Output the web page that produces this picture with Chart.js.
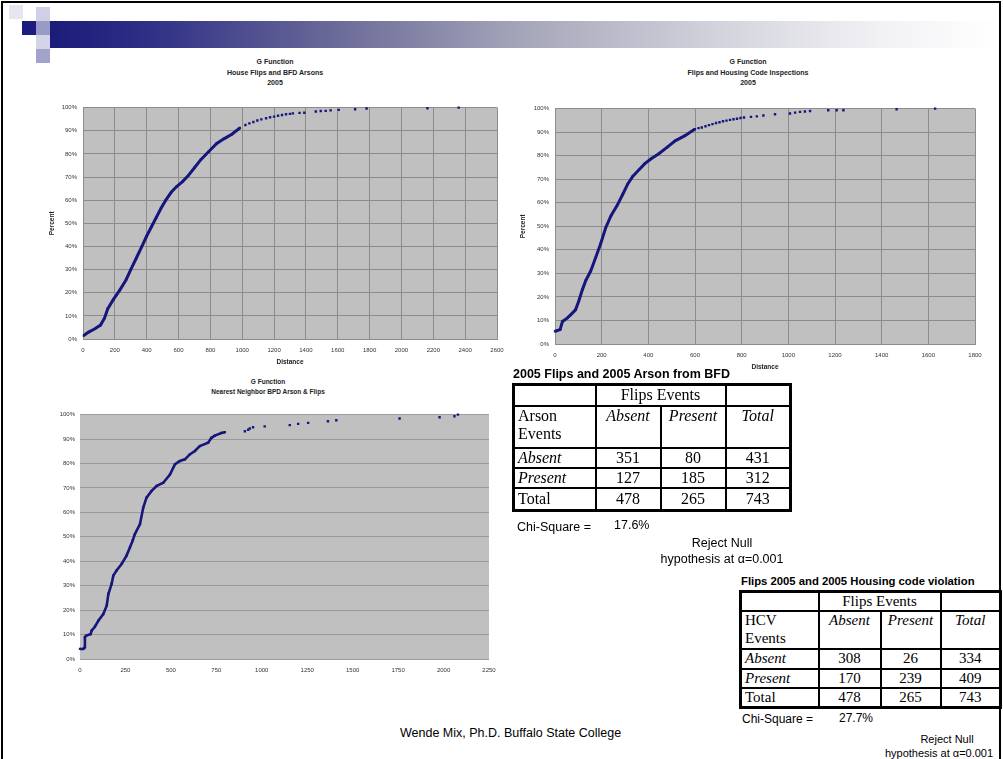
<!DOCTYPE html>
<html><head><meta charset="utf-8">
<script src="https://cdn.jsdelivr.net/npm/chart.js@4/dist/chart.umd.min.js"></script>
<style>
body{margin:0;width:1003px;height:759px;background:#fff;position:relative;overflow:hidden;font-family:"Liberation Sans",Arial,sans-serif;color:#000;}
.frame{position:absolute;left:1px;top:1px;width:996px;height:800px;border:2px solid #000;}
.sq{position:absolute;width:14px;height:14px;}
.bar{position:absolute;left:50px;top:21px;width:948px;height:27px;background:linear-gradient(to right,#1b1b7a 0%,#2e2e86 10%,#6a6a98 30%,#a6a6ba 50%,#d2d2dc 70%,#f2f2f5 88%,#fff 100%);}
canvas{position:absolute;}
.ct{position:absolute;text-align:center;font-weight:bold;font-size:7px;line-height:10.5px;color:#222;white-space:nowrap;}
table{position:absolute;border-collapse:collapse;table-layout:fixed;font-family:"Liberation Serif","Times New Roman",serif;border:3px solid #000;}
td{border:2px solid #000;padding:0 3px;overflow:hidden;white-space:nowrap;line-height:1.15;}
td.c{text-align:center;}
td.i{font-style:italic;}
.tt{position:absolute;font-weight:bold;white-space:nowrap;}
.tx{position:absolute;white-space:nowrap;font-size:12.5px;}
</style></head>
<body>
<div class="frame"></div>
<div class="sq" style="left:9px;top:5px;background:#e6e6f1"></div>
<div class="sq" style="left:36px;top:7px;background:#cfcfe5"></div>
<div class="sq" style="left:22px;top:21px;background:#1c1c7e"></div>
<div class="sq" style="left:36px;top:21px;background:#9a9ac6"></div>
<div class="bar"></div>
<div class="sq" style="left:36px;top:35px;background:#d4d4e8"></div>
<div class="sq" style="left:36px;top:49px;background:#a2a2cc"></div>

<div class="ct" style="left:175px;top:57px;width:200px">G Function<br>House Flips and BFD Arsons<br>2005</div>
<div class="ct" style="left:648px;top:57px;width:200px">G Function<br>Flips and Housing Code Inspections<br>2005</div>
<div class="ct" style="left:168px;top:377px;width:200px;font-size:6.5px;line-height:9.5px">G Function<br>Nearest Neighbor BPD Arson &amp; Flips</div>

<canvas id="c1" width="472" height="271" style="left:40px;top:98px;width:472px;height:271px"></canvas>
<canvas id="c2" width="480" height="275" style="left:510px;top:99px;width:480px;height:275px"></canvas>
<canvas id="c3" width="464" height="273" style="left:40px;top:406px;width:464px;height:273px"></canvas>

<div class="tt" style="left:513px;top:367px;font-size:12.5px">2005 Flips and 2005 Arson from BFD</div>
<table style="left:512px;top:383px;width:277px;font-size:16px">
<colgroup><col style="width:82px"><col style="width:65px"><col style="width:65px"><col style="width:65px"></colgroup>
<tr style="height:21px"><td></td><td class="c" colspan="2">Flips Events</td><td></td></tr>
<tr style="height:42px;vertical-align:top"><td>Arson<br>Events</td><td class="c i">Absent</td><td class="c i">Present</td><td class="c i">Total</td></tr>
<tr style="height:19px"><td class="i">Absent</td><td class="c">351</td><td class="c">80</td><td class="c">431</td></tr>
<tr style="height:20px"><td class="i">Present</td><td class="c">127</td><td class="c">185</td><td class="c">312</td></tr>
<tr style="height:22px"><td>Total</td><td class="c">478</td><td class="c">265</td><td class="c">743</td></tr>
</table>
<div class="tx" style="left:517px;top:520px">Chi-Square =</div>
<div class="tx" style="left:614px;top:518px">17.6%</div>
<div class="tx" style="left:622px;top:536px;width:200px;text-align:center">Reject Null</div>
<div class="tx" style="left:622px;top:552px;width:200px;text-align:center">hypothesis at α=0.001</div>

<div class="tt" style="left:741px;top:575px;font-size:11.3px">Flips 2005 and 2005 Housing code violation</div>
<table style="left:739px;top:590px;width:260px;font-size:15px">
<colgroup><col style="width:78px"><col style="width:62px"><col style="width:60px"><col style="width:60px"></colgroup>
<tr style="height:19px"><td></td><td class="c" colspan="2">Flips Events</td><td></td></tr>
<tr style="height:38px;vertical-align:top"><td>HCV<br>Events</td><td class="c i">Absent</td><td class="c i">Present</td><td class="c i">Total</td></tr>
<tr style="height:19px"><td class="i">Absent</td><td class="c">308</td><td class="c">26</td><td class="c">334</td></tr>
<tr style="height:18px"><td class="i">Present</td><td class="c">170</td><td class="c">239</td><td class="c">409</td></tr>
<tr style="height:19px"><td>Total</td><td class="c">478</td><td class="c">265</td><td class="c">743</td></tr>
</table>
<div class="tx" style="left:742px;top:712px;font-size:12px">Chi-Square =</div>
<div class="tx" style="left:839px;top:711px;font-size:12px">27.7%</div>
<div class="tx" style="left:847px;top:733px;width:200px;text-align:center;font-size:11px">Reject Null</div>
<div class="tx" style="left:839px;top:747px;width:200px;text-align:center;font-size:11px">hypothesis at α=0.001</div>

<div class="tx" style="left:400px;top:726px;font-size:12.5px">Wende Mix, Ph.D. Buffalo State College</div>

<script>
// ---- Chart 1: House Flips and BFD Arsons ----
const arsonDist = [5, 35, 75, 110, 135, 155, 190, 230, 270, 300, 335, 370, 400, 430, 460, 490, 520, 555, 590, 625, 660, 700, 740, 790, 840, 885, 935, 985];
const arsonPct  = [1.5, 3, 4.4, 6, 9, 13, 17, 21, 25.5, 30, 35, 40, 44.5, 48.5, 52.5, 56.5, 60, 63.5, 66, 68, 70.5, 74, 77.5, 81, 84.5, 86.5, 88.5, 91.2];
const arsonTailDist = [1020, 1045, 1070, 1095, 1120, 1150, 1175, 1200, 1225, 1250, 1275, 1300, 1318, 1360, 1390, 1462, 1493, 1524, 1555, 1606, 1709, 1781, 2163, 2359];
const arsonTailPct  = [92.5, 93.2, 93.8, 94.4, 94.9, 95.4, 95.8, 96.1, 96.5, 96.8, 97.1, 97.3, 97.5, 97.7, 97.8, 98.3, 98.5, 98.6, 98.8, 99.0, 99.3, 99.6, 99.7, 100];
const xTicks1 = [0, 200, 400, 600, 800, 1000, 1200, 1400, 1600, 1800, 2000, 2200, 2400, 2600];

// ---- Chart 2: Flips and Housing Code Inspections ----
const hciDist = [0, 22, 32, 52, 67, 88, 102, 117, 132, 153, 174, 196, 217, 240, 266, 290, 312, 333, 360, 385, 412, 445, 480, 515, 557, 600];
const hciPct  = [5.4, 6.1, 9.6, 11, 12.4, 14.5, 18.3, 23, 27, 31, 36.6, 42.7, 49.3, 54.5, 58.8, 63.5, 68, 71.2, 74, 76.6, 78.7, 80.8, 83.5, 86.3, 88.5, 91.3];
const hciTailDist = [615, 629, 645, 660, 675, 690, 705, 720, 735, 750, 765, 780, 795, 810, 840, 865, 893, 943, 1007, 1029, 1050, 1071, 1093, 1171, 1207, 1236, 1464, 1629];
const hciTailPct  = [91.7, 92, 92.5, 93, 93.4, 93.9, 94.2, 94.6, 94.9, 95.2, 95.5, 95.7, 96, 96.2, 96.5, 96.7, 97.1, 97.6, 97.9, 98.3, 98.6, 98.8, 99, 99.3, 99.3, 99.3, 99.7, 100];
const xTicks2 = [0, 200, 400, 600, 800, 1000, 1200, 1400, 1600, 1800];

// ---- Chart 3: Nearest Neighbor BPD Arson & Flips ----
const nnDist = [0, 18, 27, 27, 33, 59, 64, 82, 101, 128, 147, 156, 174, 183, 201, 229, 256, 275, 290, 302, 330, 348, 366, 394, 421, 458, 495, 522, 549, 577, 604, 632, 659, 705, 723, 742, 778, 797];
const nnPct  = [4.1, 4.1, 4.8, 8.9, 9.5, 10.2, 11.6, 13.2, 15.7, 18.4, 21.8, 26.6, 30.7, 34.1, 36.2, 38.9, 42.3, 45.7, 48.5, 51.1, 55.2, 62, 66, 68.8, 70.8, 72.1, 75.5, 79.6, 81, 81.7, 83.7, 85.1, 87.1, 88.5, 90.5, 91.4, 92.5, 92.8];
const nnTailDist = [907, 925, 934, 952, 1016, 1154, 1200, 1255, 1364, 1410, 1758, 1978, 2060, 2079];
const nnTailPct  = [93.2, 93.8, 94.3, 94.8, 95.2, 95.7, 96.2, 96.6, 97.3, 97.7, 98.4, 98.9, 99.3, 100];
const xTicks3 = [0, 250, 500, 750, 1000, 1250, 1500, 1750, 2000, 2250];

const yTicks = [0, 10, 20, 30, 40, 50, 60, 70, 80, 90, 100];

const NAVY = '#16167c';
const FONT = '"Liberation Sans", Arial, sans-serif';

const plotBg = {
  id: 'plotBg',
  beforeDraw(chart) {
    const {ctx, chartArea: a} = chart;
    ctx.save();
    ctx.fillStyle = '#c0c0c0';
    ctx.fillRect(a.left, a.top, a.right - a.left, a.bottom - a.top);
    ctx.restore();
  }
};

function pts(xs, ys) { return xs.map((x, i) => ({x: x, y: ys[i]})); }

function gchart(id, xs, ys, txs, tys, xt, o) {
  return new Chart(document.getElementById(id), {
    type: 'scatter',
    data: {datasets: [
      {data: pts(xs, ys), showLine: true, borderColor: NAVY, backgroundColor: NAVY, borderWidth: o.lw,
       pointRadius: 1.6, pointStyle: 'rect', pointBorderWidth: 0, tension: 0, clip: 6},
      {data: pts(txs, tys), showLine: false, borderColor: NAVY, backgroundColor: NAVY,
       pointRadius: 1.7, pointStyle: 'rect', pointBorderWidth: 0, clip: 6}
    ]},
    options: {
      responsive: false, animation: false, events: [],
      layout: {padding: {top: o.padTop, right: o.padRight, left: 0, bottom: 0}},
      plugins: {legend: {display: false}, tooltip: {enabled: false}},
      scales: {
        x: {
          type: 'linear', min: 0, max: xt[xt.length - 1],
          afterBuildTicks: s => { s.ticks = xt.map(v => ({value: v})); },
          afterFit: s => { s.height = o.xh; },
          grid: {display: o.vgrid, color: o.gridColor, drawTicks: false, lineWidth: 1},
          border: {display: o.vgrid, color: o.gridColor},
          ticks: {font: {family: FONT, size: 6}, color: '#333', padding: o.xpad, maxRotation: 0, autoSkip: false,
                  callback: v => String(v)},
          title: {display: o.titles, text: 'Distance', font: {family: FONT, size: 6.5, weight: 'bold'}, color: '#222', padding: {top: 0, bottom: 3}}
        },
        y: {
          min: 0, max: 100,
          afterBuildTicks: s => { s.ticks = yTicks.map(v => ({value: v})); },
          afterFit: s => { s.width = o.yw; },
          grid: {color: o.gridColor, drawTicks: false, lineWidth: 1},
          border: {display: o.vgrid, color: o.gridColor},
          ticks: {font: {family: FONT, size: 6}, color: '#333', padding: o.ypad, callback: v => v + '%'},
          title: {display: o.titles, text: 'Percent', font: {family: FONT, size: 6.5, weight: 'bold'}, color: '#222', padding: {top: o.ytp, bottom: 0}}
        }
      }
    },
    plugins: [plotBg]
  });
}

gchart('c1', arsonDist, arsonPct, arsonTailDist, arsonTailPct, xTicks1,
  {lw: 3, padTop: 7, padRight: 15, xh: 30, yw: 43, xpad: 8, ypad: 6, ytp: 8, vgrid: true, titles: true, gridColor: '#8c8c8c'});
gchart('c2', hciDist, hciPct, hciTailDist, hciTailPct, xTicks2,
  {lw: 3, padTop: 7, padRight: 15, xh: 30, yw: 45, xpad: 8, ypad: 6, ytp: 9, vgrid: true, titles: true, gridColor: '#8c8c8c'});
gchart('c3', nnDist, nnPct, nnTailDist, nnTailPct, xTicks3,
  {lw: 2.6, padTop: 7, padRight: 15, xh: 20, yw: 40, xpad: 8, ypad: 5, ytp: 0, vgrid: false, titles: false, gridColor: '#9a9a9a'});
</script>
</body></html>
